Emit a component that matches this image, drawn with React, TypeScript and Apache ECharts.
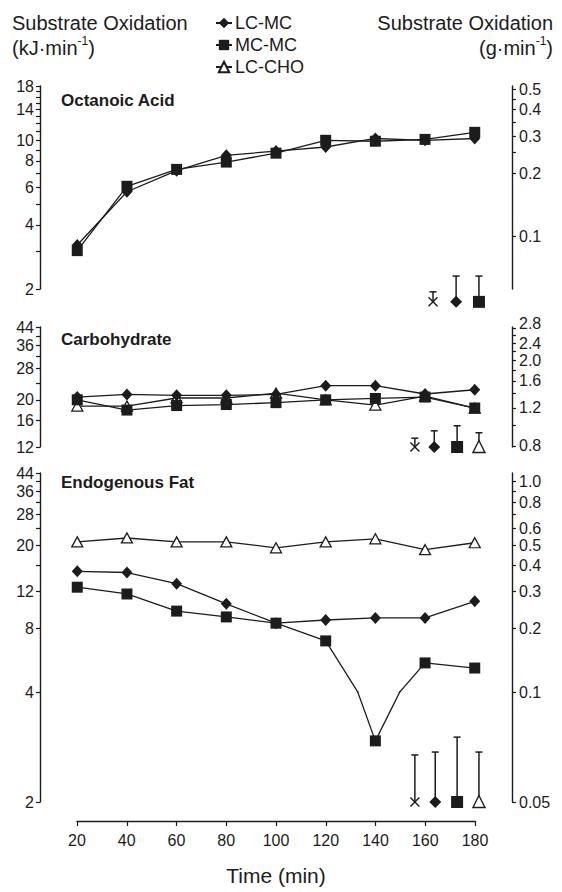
import React, { useEffect, useRef } from 'react';
import * as echarts from 'echarts';

// ---------- data ----------
const TIME = [20, 40, 60, 80, 100, 120, 140, 160, 180];
const NAMES = ['LC-MC', 'MC-MC', 'LC-CHO'];

// Octanoic acid oxidation (kJ/min)
const OCT_LCMC = [3.22, 5.73, 7.2, 8.5, 8.9, 9.3, 10.2, 10.0, 10.2];
const OCT_MCMC = [3.03, 6.08, 7.3, 7.9, 8.7, 10.0, 9.9, 10.1, 10.9];

// Carbohydrate oxidation (kJ/min)
const CHO_LCMC = [20.6, 21.2, 21.0, 21.0, 21.2, 23.3, 23.3, 21.3, 22.3];
const CHO_MCMC = [20.0, 17.9, 18.8, 19.0, 19.4, 20.0, 20.3, 20.6, 18.3];
const CHO_LCCHO = [18.7, 18.7, 20.4, 20.4, 21.5, 20.0, 18.9, 20.8, 18.3];

// Endogenous fat oxidation (kJ/min)
const FAT_LCMC = [15.0, 14.8, 13.1, 10.5, 8.5, 8.8, 9.0, 9.0, 10.8];
const FAT_MCMC = [12.6, 11.7, 9.7, 9.1, 8.5, 7.0, 2.94, 5.5, 5.2];
const FAT_LCCHO = [20.7, 21.6, 20.7, 20.7, 19.4, 20.7, 21.4, 19.0, 20.5];

// representative SEM bars: [x, marker value, bar top, marker kind]
const MARK_X = 0, MARK_DIAMOND = 1, MARK_SQUARE = 2, MARK_TRIANGLE = 3;
const SEM_OCT = [
  [163.2, 1.74, 1.94, MARK_X],
  [172.5, 1.74, 2.3, MARK_DIAMOND],
  [181.7, 1.74, 2.3, MARK_SQUARE],
];
const SEM_CHO = [
  [155.9, 12, 13.2, MARK_X],
  [163.7, 12, 14.3, MARK_DIAMOND],
  [172.9, 12, 15.1, MARK_SQUARE],
  [181.7, 12, 14.0, MARK_TRIANGLE],
];
const SEM_FAT = [
  [155.9, 2, 2.69, MARK_X],
  [164.1, 2, 2.74, MARK_DIAMOND],
  [172.9, 2, 3.01, MARK_SQUARE],
  [181.7, 2, 2.74, MARK_TRIANGLE],
];

// tick labels / tick marks
const X_TICKS_INTERVAL = 20;
const OCT_LEFT_LABELS = [2, 4, 6, 8, 10, 14, 18];
const OCT_LEFT_TICKS = [2, 3, 4, 5, 6, 7, 8, 9, 10, 11, 12, 13, 14, 15, 16, 17, 18];
const OCT_RIGHT_LABELS = [0.1, 0.2, 0.3, 0.4, 0.5];
const OCT_RIGHT_TICKS = [0.1, 0.2, 0.25, 0.3, 0.35, 0.4, 0.45, 0.5];
const CHO_LEFT_LABELS = [12, 16, 20, 28, 36, 44];
const CHO_LEFT_TICKS = [12, 16, 20, 24, 28, 32, 36, 40, 44];
const CHO_RIGHT_LABELS = [0.8, 1.2, 1.6, 2.0, 2.4, 2.8];
const CHO_RIGHT_TICKS = [0.8, 1.0, 1.2, 1.4, 1.6, 1.8, 2.0, 2.2, 2.4, 2.6, 2.8];
const FAT_LEFT_LABELS = [2, 4, 8, 12, 20, 28, 36, 44];
const FAT_LEFT_TICKS = [2, 4, 8, 12, 16, 20, 24, 28, 32, 36, 40, 44];
const FAT_RIGHT_LABELS = [0.05, 0.1, 0.2, 0.3, 0.4, 0.5, 0.6, 0.8, 1.0];
const FAT_RIGHT_TICKS = [0.05, 0.1, 0.2, 0.3, 0.4, 0.5, 0.6, 0.7, 0.8, 0.9, 1.0];

// ---------- styling ----------
const FONT = "'Liberation Sans', Arial, Helvetica, sans-serif";
const INK = '#1c1c1c';

const SYMBOLS: Record<string, { symbol: string; size: number | number[]; fill: string }> = {
  'LC-MC': { symbol: 'diamond', size: [11, 12], fill: INK },
  'MC-MC': { symbol: 'rect', size: 11, fill: INK },
  'LC-CHO': { symbol: 'triangle', size: [11, 10], fill: '#ffffff' },
};

function lineSeries(name: string, values: number[], axisIdx: number, yAxisIndex: number) {
  const s = SYMBOLS[name];
  return {
    type: 'line',
    name,
    xAxisIndex: axisIdx,
    yAxisIndex,
    data: TIME.map((t, i) => [t, values[i]]),
    symbol: s.symbol,
    symbolSize: s.size,
    showAllSymbol: true,
    clip: true,
    silent: true,
    z: name === 'MC-MC' ? 4 : 3,
    itemStyle: { color: s.fill, borderColor: INK, borderWidth: name === 'LC-CHO' ? 1.3 : 0, opacity: 1 },
    lineStyle: { color: INK, width: 1.3 },
    emphasis: { disabled: true },
  };
}

function semSeries(data: number[][], axisIdx: number, yAxisIndex: number) {
  return {
    type: 'custom',
    xAxisIndex: axisIdx,
    yAxisIndex,
    clip: false,
    silent: true,
    z: 6,
    data,
    renderItem: (_p: any, api: any) => {
      const x = api.value(0);
      const base = api.value(1);
      const top = api.value(2);
      const kind = api.value(3);
      const p0 = api.coord([x, base]);
      const p1 = api.coord([x, top]);
      const cx = p0[0], cy = p0[1];
      const st = { stroke: INK, lineWidth: 1.5 };
      const children: any[] = [
        { type: 'line', shape: { x1: cx, y1: cy, x2: p1[0], y2: p1[1] }, style: st },
        { type: 'line', shape: { x1: p1[0] - 3.5, y1: p1[1], x2: p1[0] + 3.5, y2: p1[1] }, style: st },
      ];
      if (kind === MARK_X) {
        const r = 4.5;
        children.push({ type: 'line', shape: { x1: cx - r, y1: cy - r, x2: cx + r, y2: cy + r }, style: { stroke: INK, lineWidth: 1.4 } });
        children.push({ type: 'line', shape: { x1: cx - r, y1: cy + r, x2: cx + r, y2: cy - r }, style: { stroke: INK, lineWidth: 1.4 } });
      } else if (kind === MARK_DIAMOND) {
        children.push({ type: 'polygon', shape: { points: [[cx, cy - 6], [cx + 6, cy], [cx, cy + 6], [cx - 6, cy]] }, style: { fill: INK } });
      } else if (kind === MARK_SQUARE) {
        children.push({ type: 'rect', shape: { x: cx - 6, y: cy - 6, width: 12, height: 12 }, style: { fill: INK } });
      } else {
        children.push({ type: 'polygon', shape: { points: [[cx, cy - 6.5], [cx + 6, cy + 5.5], [cx - 6, cy + 5.5]] }, style: { fill: '#fff', stroke: INK, lineWidth: 1.4 } });
      }
      return { type: 'group', children };
    },
  };
}

const intFmt = (v: number) => String(Math.round(v));
const dec1Fmt = (v: number) => (v < 0.095 ? String(Math.round(v * 100) / 100) : v.toFixed(1));
// the topmost carbohydrate g·min-1 label is nudged upward (as in the original) to keep it clear of its neighbour
const CHO_TOP_LABEL = CHO_RIGHT_LABELS[CHO_RIGHT_LABELS.length - 1];
const choRightFmt = (v: number) => (Math.abs(v - CHO_TOP_LABEL) < 1e-6 ? `{hi|${v.toFixed(1)}}` : v.toFixed(1));

function yAx(
  gridIndex: number,
  position: string,
  min: number,
  max: number,
  labels: number[],
  ticks: number[],
  fmt: (v: number) => string,
  overlay = false
) {
  return {
    type: 'log',
    logBase: 10,
    gridIndex,
    position,
    min,
    max,
    axisLine: { show: !overlay, onZero: false, lineStyle: { color: INK, width: 1.4 } },
    axisTick: { show: !overlay, inside: false, length: 4, customValues: ticks, lineStyle: { color: INK, width: 1.2 } },
    axisLabel: {
      show: true,
      customValues: labels,
      formatter: fmt,
      fontSize: 16,
      lineHeight: 11,
      fontFamily: FONT,
      color: INK,
      margin: position === 'left' ? 6 : 7,
      showMinLabel: true,
      showMaxLabel: true,
      hideOverlap: false,
      rich: {
        hi: { fontSize: 16, fontFamily: FONT, color: INK, lineHeight: 16, padding: [0, 0, 10, 0] },
      },
    },
    splitLine: { show: false },
    minorTick: { show: false },
    minorSplitLine: { show: false },
  };
}

function hiddenX(gridIndex: number) {
  return { type: 'value', gridIndex, min: 5, max: 195, show: false };
}

// the carbohydrate g·min-1 labels sit very close together: put every other one on an overlaid axis
const CHO_RIGHT_LABELS_A = CHO_RIGHT_LABELS.filter((_, i) => i % 2 === 0);
const CHO_RIGHT_LABELS_B = CHO_RIGHT_LABELS.filter((_, i) => i % 2 === 1);

const GRID_L = 40;
const GRID_R = 50;

const option: any = {
  animation: false,
  backgroundColor: '#ffffff',
  textStyle: { fontFamily: FONT },
  grid: [
    { left: GRID_L, right: GRID_R, top: 86, height: 203, outerBoundsMode: 'none' },
    { left: GRID_L, right: GRID_R, top: 327, height: 120, outerBoundsMode: 'none' },
    { left: GRID_L, right: GRID_R, top: 473, height: 219, outerBoundsMode: 'none' },
    { left: GRID_L, right: GRID_R, top: 692, height: 110, outerBoundsMode: 'none' },
    { left: 77, right: 87, top: 790, height: 31, outerBoundsMode: 'none' },
  ],
  xAxis: [
    hiddenX(0),
    hiddenX(1),
    hiddenX(2),
    hiddenX(3),
    {
      type: 'value',
      gridIndex: 4,
      min: 20,
      max: 180,
      interval: X_TICKS_INTERVAL,
      axisLine: { show: true, onZero: false, lineStyle: { color: INK, width: 1.4 } },
      axisTick: { show: true, inside: false, length: 5, lineStyle: { color: INK, width: 1.2 } },
      axisLabel: { fontSize: 16, fontFamily: FONT, color: INK, margin: 11 },
      splitLine: { show: false },
      name: 'Time (min)',
      nameLocation: 'middle',
      nameGap: 44,
      nameTextStyle: { fontSize: 21, fontFamily: FONT, color: INK },
    },
  ],
  yAxis: [
    yAx(0, 'left', 2, 18, OCT_LEFT_LABELS, OCT_LEFT_TICKS, intFmt),
    yAx(0, 'right', 0.0565, 0.518, OCT_RIGHT_LABELS, OCT_RIGHT_TICKS, dec1Fmt),
    yAx(1, 'left', 12, 44, CHO_LEFT_LABELS, CHO_LEFT_TICKS, intFmt),
    yAx(1, 'right', 0.79, 2.85, CHO_RIGHT_LABELS_A, CHO_RIGHT_TICKS, choRightFmt),
    yAx(2, 'left', 4, 44, FAT_LEFT_LABELS.filter((v) => v >= 4), FAT_LEFT_TICKS.filter((v) => v >= 4), intFmt),
    yAx(2, 'right', 0.1, 1.1, FAT_RIGHT_LABELS.filter((v) => v >= 0.1), FAT_RIGHT_TICKS.filter((v) => v >= 0.1), dec1Fmt),
    yAx(3, 'left', 2, 4, FAT_LEFT_LABELS.filter((v) => v < 4), FAT_LEFT_TICKS.filter((v) => v < 4), intFmt),
    yAx(3, 'right', 0.05, 0.1, FAT_RIGHT_LABELS.filter((v) => v < 0.1), FAT_RIGHT_TICKS.filter((v) => v < 0.1), dec1Fmt),
    { type: 'value', gridIndex: 4, show: false },
    yAx(1, 'right', 0.79, 2.85, CHO_RIGHT_LABELS_B, CHO_RIGHT_TICKS, choRightFmt, true),
  ],
  legend: {
    show: true,
    orient: 'vertical',
    left: 210,
    top: 9,
    itemWidth: 16,
    itemHeight: 13,
    itemGap: 4,
    selectedMode: false,
    data: NAMES,
    textStyle: { fontSize: 18, fontFamily: FONT, color: INK, padding: [0, 0, 0, -2] },
  },
  graphic: [
    { type: 'text', left: 12, top: 13, style: { text: 'Substrate Oxidation', font: `20px ${FONT}`, fill: INK } },
    {
      type: 'text',
      left: 12,
      top: 35,
      style: {
        text: '{a|(kJ·min}{s|-1}{a|)}',
        rich: {
          a: { fontSize: 20, fontFamily: FONT, fill: INK, lineHeight: 26 },
          s: { fontSize: 12, fontFamily: FONT, fill: INK, verticalAlign: 'top' },
        },
      },
    },
    { type: 'text', right: 9, top: 13, style: { text: 'Substrate Oxidation', font: `20px ${FONT}`, fill: INK } },
    {
      type: 'text',
      right: 9,
      top: 35,
      style: {
        text: '{a|(g·min}{s|-1}{a|)}',
        rich: {
          a: { fontSize: 20, fontFamily: FONT, fill: INK, lineHeight: 26 },
          s: { fontSize: 12, fontFamily: FONT, fill: INK, verticalAlign: 'top' },
        },
      },
    },
    { type: 'text', left: 61, top: 92, style: { text: 'Octanoic Acid', font: `bold 17px ${FONT}`, fill: INK } },
    { type: 'text', left: 61, top: 331, style: { text: 'Carbohydrate', font: `bold 17px ${FONT}`, fill: INK } },
    { type: 'text', left: 61, top: 474, style: { text: 'Endogenous Fat', font: `bold 17px ${FONT}`, fill: INK } },
  ],
  series: [
    // Octanoic acid
    lineSeries('LC-MC', OCT_LCMC, 0, 0),
    lineSeries('MC-MC', OCT_MCMC, 0, 0),
    semSeries(SEM_OCT, 0, 0),
    // Carbohydrate
    lineSeries('LC-CHO', CHO_LCCHO, 1, 2),
    lineSeries('LC-MC', CHO_LCMC, 1, 2),
    lineSeries('MC-MC', CHO_MCMC, 1, 2),
    semSeries(SEM_CHO, 1, 2),
    // Endogenous fat (upper, log 4–44)
    lineSeries('LC-CHO', FAT_LCCHO, 2, 4),
    lineSeries('LC-MC', FAT_LCMC, 2, 4),
    lineSeries('MC-MC', FAT_MCMC, 2, 4),
    // Endogenous fat (lower, expanded log 2–4)
    lineSeries('LC-CHO', FAT_LCCHO, 3, 6),
    lineSeries('LC-MC', FAT_LCMC, 3, 6),
    lineSeries('MC-MC', FAT_MCMC, 3, 6),
    semSeries(SEM_FAT, 3, 6),
  ],
};

export default function App() {
  const ref = useRef<HTMLDivElement>(null);
  useEffect(() => {
    if (!ref.current) return;
    const chart = echarts.init(ref.current, null, { renderer: 'svg' });
    chart.setOption(option);
    return () => chart.dispose();
  }, []);
  return (
    <div
      ref={ref}
      style={{ position: 'absolute', left: 0, top: 0, width: 562, height: 892, background: '#fff' }}
    />
  );
}
